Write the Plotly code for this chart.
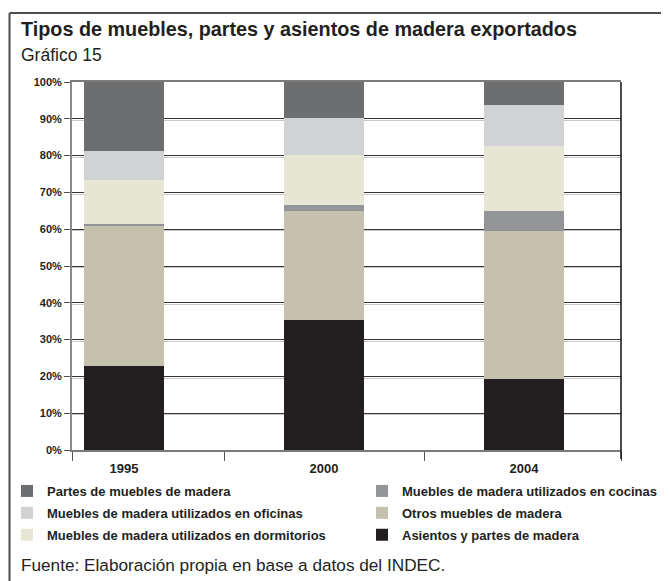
import plotly.graph_objects as go

# ---- data ----
years = ["1995", "2000", "2004"]
asientos = [22.8, 35.2, 19.2]
otros = [38.1, 29.7, 40.3]
cocinas = [0.6, 1.7, 5.4]
dormitorios = [11.9, 13.6, 17.8]
oficinas = [7.9, 10.1, 11.1]
partes = [18.7, 9.7, 6.2]
y_ticks = [0, 10, 20, 30, 40, 50, 60, 70, 80, 90, 100]

# ---- layout geometry (screen targets; page body adds an 8px offset) ----
W, H = 669, 581
OFF = 8
P_LEFT, P_RIGHT, P_TOP, P_BOTTOM = 72, 621, 82, 450
ML = P_LEFT - OFF
MT = P_TOP - OFF
PW = P_RIGHT - P_LEFT
PH = P_BOTTOM - P_TOP
MR = W - ML - PW
MB = H - MT - PH


def px_x(s):
    return (s - P_LEFT) / PW


def px_y(s):
    return (P_BOTTOM - s) / PH


TXT = "#231f20"
FONT = "Liberation Sans"

# name, values, colour, legend column, position in column
series = [
    ("Asientos y partes de madera", asientos, "#231f20", "legend2", 3),
    ("Otros muebles de madera", otros, "#c4c2ae", "legend2", 2),
    ("Muebles de madera utilizados en cocinas", cocinas, "#939598", "legend2", 1),
    ("Muebles de madera utilizados en dormitorios", dormitorios, "#e7e5d3", "legend", 3),
    ("Muebles de madera utilizados en oficinas", oficinas, "#d1d2d4", "legend", 2),
    ("Partes de muebles de madera", partes, "#6d6e70", "legend", 1),
]

xpos = list(range(len(years)))
fig = go.Figure()
for name, vals, col, leg, rank in series:
    fig.add_trace(go.Bar(
        x=xpos, y=vals, name=name, width=0.4,
        marker=dict(color=col, line=dict(width=0)),
        legend=leg, legendrank=rank, legendgroup=name,
    ))

xr = [-0.26, 2.485]
legend_common = dict(
    orientation="v", yanchor="top", traceorder="grouped", tracegroupgap=2,
    font=dict(family=FONT, size=13, color=TXT, weight="bold"),
    bgcolor="rgba(0,0,0,0)", itemclick=False, itemdoubleclick=False,
)
FRAME = dict(color="#4d4d4d", width=2)
fig.update_layout(
    width=W, height=H,
    margin=dict(l=ML, r=MR, t=MT, b=MB, autoexpand=False),
    barmode="stack",
    plot_bgcolor="white", paper_bgcolor="white",
    font=dict(family=FONT, color=TXT),
    xaxis=dict(
        range=xr, tickmode="array", tickvals=xpos, ticktext=years,
        ticks="", showgrid=False, zeroline=False, automargin=False,
        showline=True, linecolor="#7a7a7a", linewidth=1.5, mirror=True,
        tickfont=dict(family=FONT, size=13, color=TXT, weight="bold"),
        ticklabelstandoff=6,
        minor=dict(tickmode="array", tickvals=[xr[0], 0.5, 1.5, xr[1]],
                   ticks="outside", ticklen=9, tickcolor="#555555", tickwidth=1.2,
                   showgrid=False),
    ),
    xaxis2=dict(
        range=xr, overlaying="x", anchor="y", tickmode="array", tickvals=[0.5, 1.5],
        ticks="inside", ticklen=10, tickcolor="#555555", tickwidth=1.2,
        showticklabels=False, showgrid=False, zeroline=False, showline=False,
    ),
    yaxis=dict(
        range=[0, 100], tickmode="array", tickvals=y_ticks,
        ticktext=[f"{v}%" for v in y_ticks], automargin=False,
        ticks="outside", ticklen=6, tickcolor="#555555", tickwidth=1.2,
        showline=True, linecolor="#8a8a8a", linewidth=2,
        showgrid=True, gridcolor="#333333", gridwidth=1.2, zeroline=False,
        tickfont=dict(family=FONT, size=11, color=TXT, weight="bold"),
        minor=dict(tickmode="array", tickvals=[v - 0.45 for v in y_ticks[1:-1]],
                   showgrid=True, gridcolor="#c9c9c9", gridwidth=1.2, ticks=""),
    ),
    showlegend=True,
    legend=dict(x=px_x(7), y=px_y(476), xanchor="left", **legend_common),
    legend2=dict(x=px_x(362), y=px_y(476), xanchor="left", **legend_common),
    shapes=[
        dict(type="line", xref="paper", yref="paper", x0=1, x1=1,
             y0=px_y(459), y1=1, line=dict(color="#111111", width=1.5)),
        # outer frame: top and left edges (right/bottom lie beyond the picture)
        dict(type="line", xref="paper", yref="paper",
             x0=px_x(9.5), x1=px_x(W + 8), y0=px_y(13), y1=px_y(13), line=FRAME),
        dict(type="line", xref="paper", yref="paper",
             x0=px_x(9.5), x1=px_x(9.5), y0=px_y(13), y1=px_y(H + 8), line=FRAME),
    ],
    annotations=[
        dict(text="<b>Tipos de muebles, partes y asientos de madera exportados</b>",
             xref="paper", yref="paper", x=px_x(19), y=px_y(29), xanchor="left",
             yanchor="middle", showarrow=False,
             font=dict(family=FONT, size=19.8, color=TXT)),
        dict(text="Gráfico 15", xref="paper", yref="paper", x=px_x(19), y=px_y(55),
             xanchor="left", yanchor="middle", showarrow=False,
             font=dict(family=FONT, size=17.5, color=TXT)),
        dict(text="Fuente: Elaboración propia en base a datos del INDEC.",
             xref="paper", yref="paper", x=px_x(19), y=px_y(565), xanchor="left",
             yanchor="middle", showarrow=False,
             font=dict(family=FONT, size=17.2, color=TXT)),
    ],
)

fig.write_html("out.html")
